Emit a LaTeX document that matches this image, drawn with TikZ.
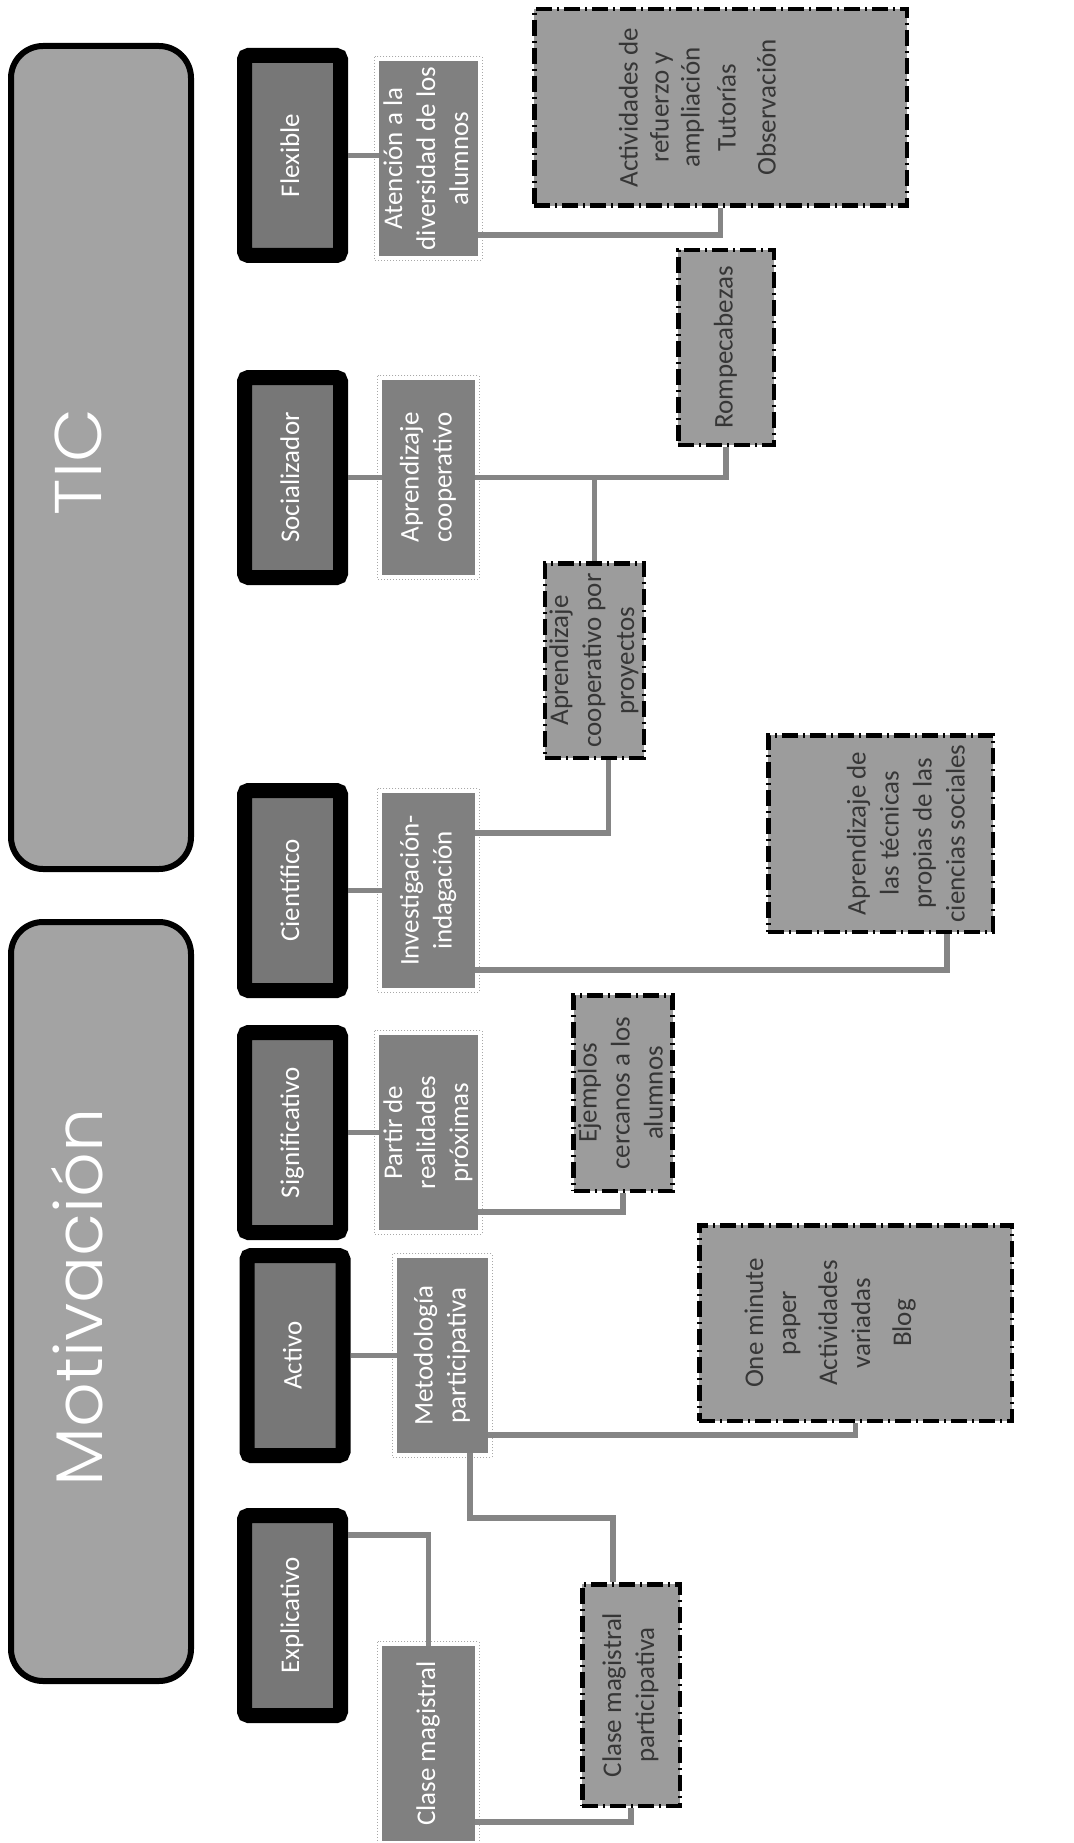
\documentclass[tikz,border=0pt]{standalone}
\usepackage{fontspec}
\setmainfont{Carlito}
\IfFontExistsTF{Poppins Light}
  {\newfontfamily\titlefont{Poppins Light}}
  {\newfontfamily\titlefont{Poppins}}
\usetikzlibrary{calc}

\definecolor{catfill}{HTML}{777777}
\definecolor{midfill}{HTML}{808080}
\definecolor{leaffill}{HTML}{9C9C9C}
\definecolor{bigfill}{HTML}{A3A3A3}
\definecolor{linkgray}{HTML}{858585}
\definecolor{leaftext}{HTML}{363636}
\definecolor{framegray}{HTML}{A8A8A8}

% text set vertically, reading from bottom to top; #1 shifts it towards the left
\newcommand{\vtext}[2][0pt]{\rotatebox{90}{\raisebox{#1}[\height][\depth]{\begin{tabular}{@{}c@{}}#2\end{tabular}}}}
% wide title lettering
\newcommand{\widetitle}[1]{\scalebox{1.06}[1]{#1}}

\begin{document}
\begin{tikzpicture}[x=1pt,y=1pt,
  boxfont/.style={font=\fontsize{27}{33}\selectfont},
  bigbox/.style={draw=black, line width=6pt, fill=bigfill, rounded corners=32pt,
    minimum width=180pt, inner sep=0pt},
  bigtitle/.style={text=white, anchor=base, rotate=90,
    font=\titlefont\fontsize{66}{70}\selectfont},
  catbox/.style={draw=black, line width=15pt, fill=catfill, rounded corners=4pt,
    minimum width=96pt, minimum height=200pt, inner sep=0pt, text=white, boxfont},
  midbox/.style={fill=midfill, minimum width=93pt, minimum height=195pt,
    inner sep=0pt, text=white, boxfont},
  midframe/.style={draw=framegray, line width=1pt, dotted},
  leafbox/.style={draw=black, line width=4.5pt,
    dash pattern=on 16pt off 5pt on 2pt off 5pt, fill=leaffill,
    inner sep=0pt, text=leaftext, boxfont},
  conn/.style={draw=linkgray, line width=5.5pt}]

\fill[white] (0,0) rectangle (1073,-1843);
\useasboundingbox (0,0) rectangle (1073,-1843);

% main blocks
\node[bigbox, minimum height=823pt] (tic) at (101,-457.5) {};
\node[bigtitle] (tictext) at (101,-462) {\widetitle{TIC}};
\node[bigbox, minimum height=759pt] (mot) at (101,-1301.5) {};
\node[bigtitle] (mottext) at (102,-1297.5) {\widetitle{Motivación}};

% categories
\node[catbox] (flex) at (292.5,-155.5)  {\vtext{Flexible}};
\node[catbox] (soc)  at (292.5,-477.5)  {\vtext{Socializador}};
\node[catbox] (cien) at (292.5,-890.5)  {\vtext{Científico}};
\node[catbox] (sig)  at (292.5,-1132.5) {\vtext{Significativo}};
\node[catbox] (act)  at (295,-1355.5)   {\vtext{Activo}};
\node[catbox] (expl) at (292.5,-1615.5) {\vtext{Explicativo}};

% methods
\node[midbox] (aten)  at (428.5,-158.5)  {\vtext{Atención a la\\diversidad de los\\alumnos}};
\node[midbox] (coop)  at (428.5,-477.5)  {\vtext{Aprendizaje\\cooperativo}};
\node[midbox] (inv)   at (428.5,-890.5)  {\vtext{Investigación-\\indagación}};
\node[midbox] (part)  at (428.5,-1132.5) {\vtext{Partir de\\realidades\\próximas}};
\node[midbox, minimum width=91pt] (met) at (442.5,-1355.5) {\vtext{Metodología\\participativa}};
\node[midbox] (clase) at (428.5,-1743.5) {\vtext{Clase magistral}};

\foreach \n in {aten,coop,inv,part,met,clase}
  \draw[midframe] ([shift={(-4pt,4pt)}]\n.north west) rectangle ([shift={(4pt,-4pt)}]\n.south east);

% resources
\node[leafbox, minimum width=372.5pt, minimum height=196.5pt,
      font=\fontsize{27}{31}\selectfont] (activ) at (720.5,-107.5)
  {\vtext[20pt]{Actividades de\\refuerzo y\\ampliación\\[5pt]Tutorías\\[9pt]Observación}};
\node[leafbox, minimum width=95.5pt, minimum height=194.5pt] (romp) at (726,-347.5)
  {\vtext{Rompecabezas}};
\node[leafbox, minimum width=98.5pt, minimum height=194.5pt] (proy) at (594.5,-660.5)
  {\vtext{Aprendizaje\\cooperativo por\\proyectos}};
\node[leafbox, minimum width=224.5pt, minimum height=196.5pt] (tecn) at (880.5,-833.5)
  {\vtext[-28pt]{Aprendizaje de\\las técnicas\\propias de las\\ciencias sociales}};
\node[leafbox, minimum width=95.5pt, minimum height=195.5pt] (ejem) at (623,-1093)
  {\vtext{Ejemplos\\cercanos a los\\alumnos}};
\node[leafbox, minimum width=312.5pt, minimum height=195.5pt] (onem) at (855.5,-1323)
  {\vtext[25pt]{One minute\\paper\\[8pt]Actividades\\variadas\\[8pt]Blog}};
\node[leafbox, minimum width=97.5pt, minimum height=221.5pt] (cmp) at (631,-1695)
  {\vtext{Clase magistral\\participativa}};

% connectors
\draw[conn] (flex.east) -- (flex.east -| aten.west);
\draw[conn] (soc.east)  -- (soc.east -| coop.west);
\draw[conn] (cien.east) -- (cien.east -| inv.west);
\draw[conn] (sig.east)  -- (sig.east -| part.west);
\draw[conn] (act.east)  -- (act.east -| met.west);
\draw[conn] (expl.east |- 0,-1535) -| (clase.north);

\draw[conn] (aten.east |- 0,-235) -| (activ.south);
\draw[conn] (coop.east) -| (romp.south);
\draw[conn] (coop.east) -| (proy.north);
\draw[conn] (inv.east |- 0,-833) -| ([xshift=14pt]proy.south);
\draw[conn] (inv.east |- 0,-970) -| (tecn.south -| 947,0);
\draw[conn] (part.east |- 0,-1212) -| (ejem.south);
\draw[conn] (met.east |- 0,-1435) -| (onem.south);
\draw[conn] (met.south -| 470,0) -- (470,-1518) -| ([xshift=-18pt]cmp.north);
\draw[conn] (clase.east |- 0,-1822) -| (cmp.south);

\end{tikzpicture}
\end{document}
